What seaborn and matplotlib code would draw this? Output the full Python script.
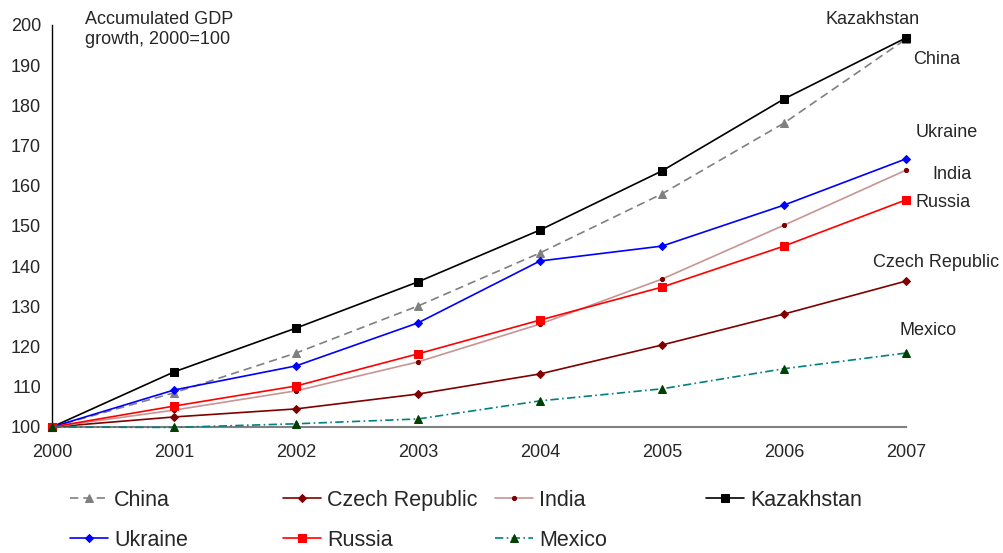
import matplotlib
matplotlib.use("Agg")
import matplotlib.pyplot as plt
import seaborn as sns
import pandas as pd

years = [2000, 2001, 2002, 2003, 2004, 2005, 2006, 2007]
china = [100, 108.5, 118.4, 130.1, 143.3, 158.0, 175.6, 196.5]
czech = [100, 102.5, 104.5, 108.2, 113.2, 120.4, 128.1, 136.3]
india = [100, 104.2, 109.0, 116.2, 125.6, 136.8, 150.2, 163.9]
kazakhstan = [100, 113.7, 124.6, 136.1, 149.0, 163.7, 181.6, 196.8]
ukraine = [100, 109.2, 115.2, 125.9, 141.3, 145.0, 155.2, 166.7]
russia = [100, 105.2, 110.2, 118.2, 126.6, 134.8, 145.0, 156.5]
mexico = [100, 99.9, 100.8, 102.0, 106.5, 109.5, 114.5, 118.4]

series = {
    "China": china,
    "Czech Republic": czech,
    "India": india,
    "Kazakhstan": kazakhstan,
    "Ukraine": ukraine,
    "Russia": russia,
    "Mexico": mexico,
}

rows = []
for name, vals in series.items():
    for y, v in zip(years, vals):
        rows.append({"Year": y, "Value": v, "Country": name})
df = pd.DataFrame(rows)

styles = {
    "China": dict(color="#808080", ls=(0, (5, 3)), marker="^", mfc="#808080", mec="#808080", ms=6, lw=1.2),
    "Czech Republic": dict(color="#800000", ls="-", marker="D", mfc="#800000", mec="#800000", ms=4.5, lw=1.2),
    "India": dict(color="#C89494", ls="-", marker="o", mfc="#800000", mec="#800000", ms=3, lw=1.2),
    "Kazakhstan": dict(color="#000000", ls="-", marker="s", mfc="#000000", mec="#000000", ms=6, lw=1.2),
    "Ukraine": dict(color="#0000FF", ls="-", marker="D", mfc="#0000FF", mec="#0000FF", ms=4.5, lw=1.2),
    "Russia": dict(color="#FF0000", ls="-", marker="s", mfc="#FF0000", mec="#FF0000", ms=5.5, lw=1.2),
    "Mexico": dict(color="#008080", ls=(0, (5, 2, 1, 2)), marker="^", mfc="#004000", mec="#004000", ms=6, lw=1.2),
}

sns.set_style("white")
plt.rcParams["font.family"] = ["Liberation Sans", "DejaVu Sans"]

fig = plt.figure(figsize=(10.04, 5.53), dpi=100)
ax = fig.add_axes([52 / 1004, 1 - 427 / 553, (906 - 52) / 1004, (427 - 25) / 553])

for name in series:
    st = styles[name]
    sub = df[df["Country"] == name]
    sns.lineplot(data=sub, x="Year", y="Value", ax=ax, color=st["color"], linestyle=st["ls"],
                 linewidth=st["lw"], marker=st["marker"], markerfacecolor=st["mfc"],
                 markeredgecolor=st["mec"], markersize=st["ms"], label=name, clip_on=False, zorder=3)

ax.set_xlim(2000, 2007)
ax.set_ylim(100, 200)
ax.set_xticks(years)
ax.set_yticks(range(100, 201, 10))
ax.set_xlabel("")
ax.set_ylabel("")
for s in ["top", "right"]:
    ax.spines[s].set_visible(False)
ax.spines["left"].set_color("black")
ax.spines["left"].set_linewidth(1.0)
ax.spines["bottom"].set_color("#808080")
ax.spines["bottom"].set_linewidth(1.5)
ax.tick_params(axis="y", direction="out", length=5, width=1, color="black", labelsize=13, pad=3)
ax.tick_params(axis="x", direction="out", length=5, width=1, color="#555555", labelsize=13, pad=7)
ax.grid(False)

# legend: four fixed-position columns
h, l = ax.get_legend_handles_labels()
hl = dict(zip(l, h))
ax.get_legend().remove()
columns = [
    (["China", "Ukraine"], 70),
    (["Czech Republic", "Russia"], 283),
    (["India", "Mexico"], 495),
    (["Kazakhstan"], 706),
]
for names, xpx in columns:
    leg = fig.legend([hl[n] for n in names], names, loc="upper left",
                     bbox_to_anchor=(xpx / 1004, 1 - 490 / 553), bbox_transform=fig.transFigure,
                     frameon=False, fontsize=15.5, handlelength=1.75, handletextpad=0.3,
                     labelspacing=0.88, borderaxespad=0, borderpad=0)

# end labels
label_pos = {
    "Kazakhstan": (2006.73, 201.4),
    "China": (2007.25, 191.3),
    "Ukraine": (2007.33, 173.2),
    "India": (2007.38, 162.7),
    "Russia": (2007.30, 155.8),
    "Czech Republic": (2007.25, 140.8),
    "Mexico": (2007.18, 123.9),
}
for name, (x, y) in label_pos.items():
    ax.text(x, y, name, ha="center", va="center", fontsize=13, clip_on=False)

fig.text(85 / 1004, 1 - 11 / 553, "Accumulated GDP\ngrowth, 2000=100", ha="left", va="top",
         fontsize=13, linespacing=1.2)

fig.savefig("out.png", dpi=100)
